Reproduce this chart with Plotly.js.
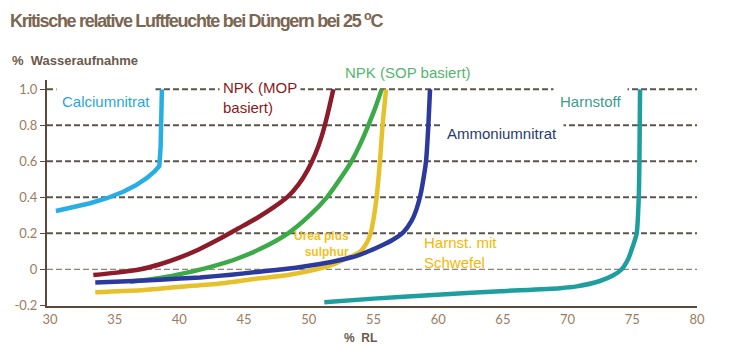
<!DOCTYPE html>
<html><head><meta charset="utf-8">
<script src="https://cdn.plot.ly/plotly-3.0.1.min.js"></script>
<style>
html,body{margin:0;padding:0;background:#fff;}
#chart{width:730px;height:354px;}
.gtitle{letter-spacing:-1.3px;}
</style>
</head><body><div id="chart"></div>
<script>
// Relative humidity (%RL) and water uptake per fertilizer
const calciumX = [30.46, 31.8, 33.1, 34.4, 35.66, 36.6, 37.47, 38.1, 38.45, 38.55, 38.6, 38.65];
const calciumY = [0.324, 0.345, 0.367, 0.395, 0.431, 0.465, 0.506, 0.545, 0.574, 0.68, 0.87, 1.0];

const mopX = [33.35, 35, 37, 38.5, 40, 41.5, 43, 44.5, 46, 47.3, 48.4, 49.2, 49.9, 50.5, 51.0, 51.45, 51.9];
const mopY = [-0.032, -0.02, 0.0, 0.028, 0.065, 0.11, 0.165, 0.225, 0.285, 0.345, 0.405, 0.47, 0.55, 0.64, 0.74, 0.86, 1.0];

const sopX = [36.2, 38.5, 40.5, 42.5, 44.5, 46.3, 48.4, 50.0, 51.4, 52.4, 53.3, 54.0, 54.6, 55.15, 55.63];
const sopY = [-0.069, -0.048, -0.02, 0.015, 0.06, 0.115, 0.2, 0.295, 0.4, 0.5, 0.6, 0.7, 0.8, 0.9, 1.0];

const ureaSX = [33.5, 37, 40.05, 43, 46.2, 48.5, 50.6, 52.0, 52.9, 53.96, 54.5, 54.78, 55.05, 55.24, 55.5, 55.7, 55.97];
const ureaSY = [-0.128, -0.117, -0.097, -0.08, -0.05, -0.03, 0.0, 0.03, 0.06, 0.098, 0.15, 0.2, 0.3, 0.4, 0.6, 0.8, 1.0];

const ammonX = [33.5, 36, 38.5, 41.6, 44, 46, 48, 50, 52, 53.7, 55.25, 56.4, 57.3, 57.95, 58.35, 58.65, 58.9, 59.06, 59.24, 59.37];
const ammonY = [-0.074, -0.067, -0.058, -0.045, -0.03, -0.015, 0.0, 0.02, 0.045, 0.075, 0.12, 0.16, 0.205, 0.27, 0.34, 0.42, 0.52, 0.6, 0.8, 1.0];

const ureaX = [51.2, 55, 59.6, 64.8, 69.4, 70.7, 72.5, 73.5, 74.18, 74.7, 75.03, 75.34, 75.5, 75.55, 75.6];
const ureaY = [-0.183, -0.163, -0.143, -0.122, -0.105, -0.095, -0.065, -0.035, 0.0, 0.06, 0.126, 0.2, 0.4, 0.6, 1.0];

const yTicks = [-0.2, 0, 0.2, 0.4, 0.6, 0.8, 1.0];
const yTickText = ['-0.2', '0', '0.2', '0.4', '0.6', '0.8', '1.0'];
const xTicks = [30, 35, 40, 45, 50, 55, 60, 65, 70, 75, 80];
const gridVals = [0.2, 0.4, 0.6, 0.8, 1.0];

const series = [
  {x: calciumX, y: calciumY, color: '#29aee3', shape: 'linear'},
  {x: mopX, y: mopY, color: '#8c1c2a', shape: 'spline'},
  {x: sopX, y: sopY, color: '#3caa48', shape: 'spline'},
  {x: ureaSX, y: ureaSY, color: '#e6c12b', shape: 'spline'},
  {x: ammonX, y: ammonY, color: '#2b3a9c', shape: 'spline'},
  {x: ureaX, y: ureaY, color: '#1f9ea0', shape: 'spline'}
];
const traces = series.map(s => ({
  x: s.x, y: s.y, type: 'scatter', mode: 'lines',
  line: {color: s.color, width: 4.5, shape: s.shape, smoothing: 0.6}, hoverinfo: 'skip'
}));

const shapes = gridVals.map(v => ({
  type: 'line', xref: 'paper', yref: 'y', x0: 0, x1: 1, y0: v, y1: v,
  layer: 'below', line: {color: '#5e544c', width: 2, dash: '6px,3px'}
}));
shapes.push({type: 'line', xref: 'paper', yref: 'y', x0: 0, x1: 1, y0: 0, y1: 0,
  layer: 'below', line: {color: '#6e655e', width: 1, dash: '6px,3px'}});

const lab = 'Liberation Sans, Arial, sans-serif';
const labels = [
  {x: 30.46, y: 0.935, yref: 'y', text: 'Calciumnitrat', color: '#1fa8e0', bg: true, pad: 5},
  {x: 43.06, y: 0.954, yref: 'y', text: 'NPK (MOP<br>basiert)', color: '#8b1a1a', bg: true, pad: 3},
  {x: 52.57, y: 1.031, yref: 'paper', text: 'NPK (SOP basiert)', color: '#55b56e', bg: true, pad: 2},
  {x: 60.14, y: 0.752, yref: 'y', text: 'Ammoniumnitrat', color: '#1f3d6e', bg: true, pad: 6},
  {x: 68.87, y: 0.935, yref: 'y', text: 'Harnstoff', color: '#3c9c8c', bg: true, pad: 6},
  {x: 58.72, y: 0.096, yref: 'y', text: 'Harnst. mit<br>Schwefel', color: '#f5b800', bg: false, pad: 1}
];
const annotations = labels.map(a => ({
  x: a.x, y: a.y, xref: 'x', yref: a.yref, text: a.text, showarrow: false,
  xanchor: 'left', yanchor: 'middle', align: 'left',
  font: {family: lab, size: 15, color: a.color},
  bgcolor: a.bg ? '#ffffff' : 'rgba(0,0,0,0)', borderpad: a.pad
}));
annotations.push({x: 53.3, y: 0.138, xref: 'x', yref: 'y', text: '<b>Urea plus<br>sulphur</b>',
  showarrow: false, xanchor: 'right', yanchor: 'middle', align: 'right',
  font: {family: 'Liberation Sans Narrow, Liberation Sans, sans-serif', size: 12, color: '#f2c21c'}});
annotations.push({xref: 'paper', yref: 'paper', x: -37/650, y: 1 + 20/226, xanchor: 'left', yanchor: 'middle',
  text: '<b>%  Wasseraufnahme</b>', showarrow: false,
  font: {family: 'Liberation Sans Narrow, Liberation Sans, sans-serif', size: 13, color: '#6b5a4a'}});
annotations.push({xref: 'paper', yref: 'paper', x: (342 - 47)/650, y: -(338 - 306)/226, xanchor: 'left', yanchor: 'middle',
  text: '<b>%  RL</b>', showarrow: false,
  font: {family: 'Liberation Sans, sans-serif', size: 12, color: '#6b5a4a'}});

const layout = {
  width: 730, height: 354,
  margin: {l: 47, r: 33, t: 80, b: 48},
  paper_bgcolor: '#ffffff', plot_bgcolor: '#ffffff',
  showlegend: false,
  title: {text: '<b>Kritische relative Luftfeuchte bei Düngern bei 25 <sup>o</sup>C</b>',
    xref: 'container', x: 10/730, xanchor: 'left', yref: 'container', y: 1 - 21/354, yanchor: 'middle',
    font: {family: 'Liberation Sans Narrow, Liberation Sans, sans-serif', size: 18, color: '#7b6651'}},
  xaxis: {
    range: [29.77, 80], tickvals: xTicks, ticks: '', showgrid: false, zeroline: false,
    showline: true, linecolor: '#5b4a3c', linewidth: 2,
    tickfont: {family: 'Lato, sans-serif', size: 13, color: '#9c7b5e'}
  },
  yaxis: {
    range: [-0.204, 1.052], tickvals: yTicks, ticktext: yTickText,
    ticks: 'outside', ticklen: 5, tickwidth: 1.5, tickcolor: '#5b4a3c',
    showgrid: false, zeroline: false,
    showline: true, linecolor: '#5b4a3c', linewidth: 2,
    tickfont: {family: 'Lato, sans-serif', size: 13, color: '#9c7b5e'}
  },
  shapes: shapes,
  annotations: annotations
};
Plotly.newPlot('chart', traces, layout, {displayModeBar: false, staticPlot: true});
</script></body></html>
